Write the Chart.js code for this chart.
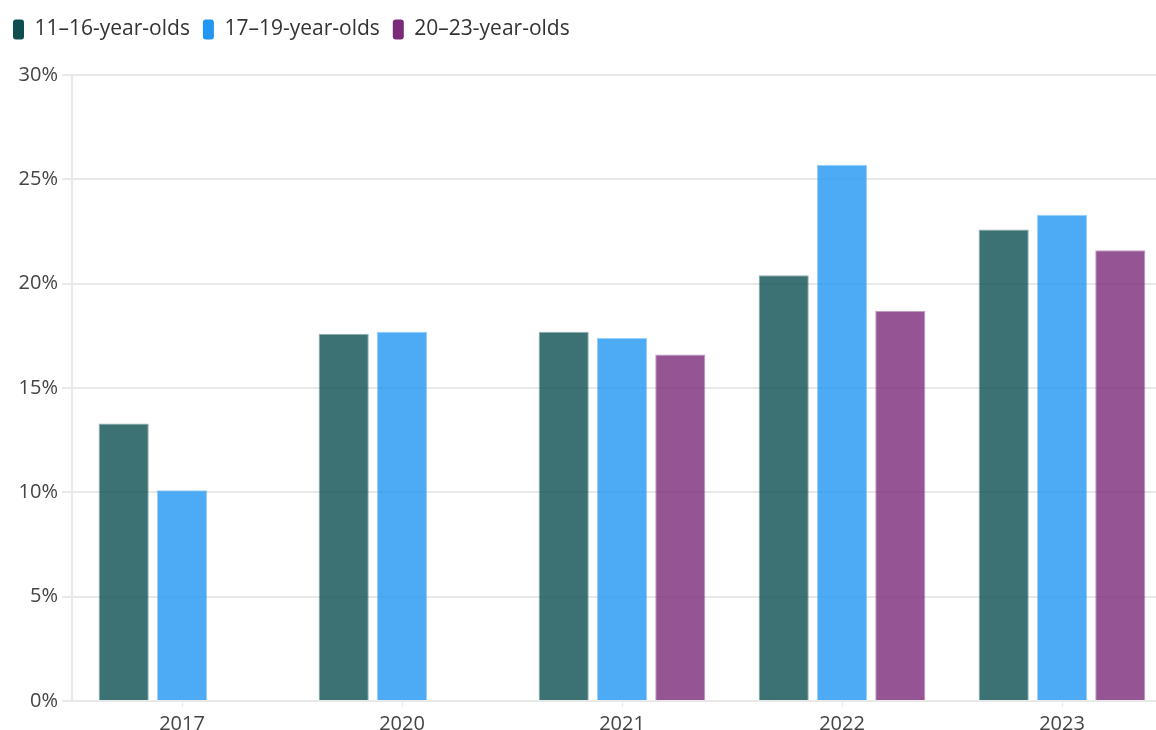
<!DOCTYPE html>
<html>
<head>
<meta charset="utf-8">
<script src="https://cdn.jsdelivr.net/npm/chart.js@4.4.1/dist/chart.umd.min.js"></script>
<style>
  html, body { margin: 0; padding: 0; background: #fff; overflow: hidden; }
  #wrap { width: 1172px; height: 730px; position: relative; }
</style>
</head>
<body>
<div id="wrap"><canvas id="myChart"></canvas></div>
<script>
const years = ['2017', '2020', '2021', '2022', '2023'];
const ages11to16 = [13.3, 17.6, 17.7, 20.4, 22.6];
const ages17to19 = [10.1, 17.7, 17.4, 25.7, 23.3];
const ages20to23 = [null, null, 16.6, 18.7, 21.6];
const yTicks = [0, 5, 10, 15, 20, 25, 30];

const chart = (function(){
  'use strict';
  const font = "'Open Sans', sans-serif";
  const gridColor = '#e9e9e9';

  function series(label, values, rgb){
    return {
      label: label,
      data: values,
      backgroundColor: 'rgba(' + rgb + ',0.8)',
      borderColor: 'rgba(' + rgb + ',0.45)',
      borderWidth: 1,
      borderSkipped: 'bottom'
    };
  }

  // leave some room between the legend and the plot
  const legendGap = {
    id: 'legendGap',
    beforeInit: function(c){
      const fit = c.legend.fit;
      c.legend.fit = function(){
        fit.call(this);
        this.height += 25;
      };
    }
  };

  const context = document.getElementById('myChart').getContext('2d');
  return new Chart(context, {
    type: 'bar',
    data: {
      labels: years,
      datasets: [
        series('11–16-year-olds', ages11to16, '13,79,81'),
        series('17–19-year-olds', ages17to19, '33,150,243'),
        series('20–23-year-olds', ages20to23, '123,43,121')
      ]
    },
    plugins: [legendGap],
    options: {
      responsive: true,
      maintainAspectRatio: false,
      animation: false,
      categoryPercentage: 0.795,
      barPercentage: 0.86,
      layout: { padding: { top: 6, left: 0, right: 0, bottom: 0 } },
      plugins: {
        tooltip: { enabled: false },
        legend: {
          position: 'top',
          align: 'start',
          labels: {
            font: { family: font, size: 21 },
            color: '#333',
            boxWidth: 11,
            boxHeight: 20,
            useBorderRadius: true,
            borderRadius: 3,
            padding: 13,
            generateLabels: function(c){
              return c.data.datasets.map(function(ds, i){
                return {
                  text: ds.label,
                  fillStyle: ds.backgroundColor.replace('0.8)', '1)'),
                  strokeStyle: ds.backgroundColor.replace('0.8)', '1)'),
                  lineWidth: 0,
                  borderRadius: 3,
                  fontColor: '#333',
                  datasetIndex: i
                };
              });
            }
          }
        }
      },
      scales: {
        x: {
          grid: {
            offset: false,
            drawOnChartArea: false,
            drawTicks: true,
            tickLength: 6,
            color: gridColor,
            lineWidth: 1
          },
          border: { display: false },
          ticks: {
            font: { family: font, size: 20 },
            color: '#444',
            padding: 5
          },
          afterFit: function(scale){ scale.height = 29; }
        },
        y: {
          min: 0,
          max: 30,
          afterBuildTicks: function(scale){
            scale.ticks = yTicks.map(function(v){ return { value: v }; });
          },
          grid: {
            color: gridColor,
            lineWidth: 2,
            tickLength: 10
          },
          border: { display: true, color: gridColor, width: 2 },
          ticks: {
            font: { family: font, size: 20 },
            color: '#444',
            padding: 4,
            callback: function(v){ return v + '%'; }
          },
          afterFit: function(scale){ scale.width = 72; }
        }
      }
    }
  });
})();
</script>
</body>
</html>
